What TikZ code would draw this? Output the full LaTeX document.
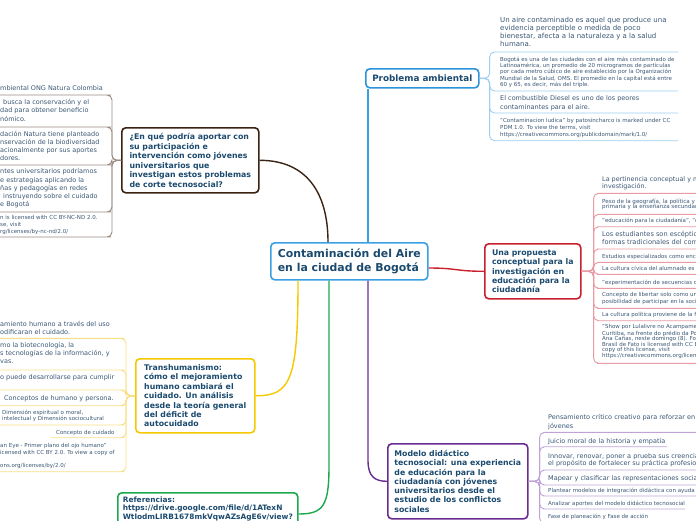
\documentclass[tikz,border=0pt]{standalone}
\usepackage{fontspec}
\setmainfont{DejaVu Sans}
\usetikzlibrary{calc}
\definecolor{ttl}{HTML}{1B4A6E}
\definecolor{lft}{HTML}{3A5774}
\definecolor{cblue}{HTML}{3AA0E4}
\definecolor{pblue}{HTML}{2C94DA}
\definecolor{lblue}{HTML}{9CCFF1}
\definecolor{brn}{HTML}{3B2314}
\definecolor{lbrn}{HTML}{9A8B82}
\definecolor{rd}{HTML}{C8202E}
\definecolor{lrd}{HTML}{E99AA2}
\definecolor{ylw}{HTML}{F5C800}
\definecolor{lylw}{HTML}{F8DF86}
\definecolor{prp}{HTML}{6B2C92}
\definecolor{lprp}{HTML}{BFA3D7}
\definecolor{grn}{HTML}{1CA94B}
\newcommand\fsz[2]{\fontsize{#1}{#2}\selectfont}
\newcommand\dep[1]{\rule[-#1pt]{0pt}{#1pt}}
\begin{document}
\begin{tikzpicture}[x=1pt,y=-1pt,
 box/.style={draw, rounded corners=4pt, line width=1.6pt, fill=white, text=ttl, align=left, anchor=north west, inner xsep=0pt, inner ysep=0pt},
 leaf/.style={align=left, anchor=south west, inner sep=0pt, text=lft},
 big/.style={font=\fsz{7}{8}},
 med/.style={font=\fsz{6.5}{8.2}},
 sml/.style={font=\fsz{5.5}{6.6}},
 main/.style={line width=1.4pt},
 twig/.style={line width=0.9pt, rounded corners=5pt},
]
\useasboundingbox (0,0) rectangle (696,520);

% ---- main nodes
\node[box, draw=cblue, minimum width=157pt, minimum height=37pt, font=\bfseries\fsz{10.9}{14}] (c) at (270,242) {Contaminación del Aire\\en la ciudad de Bogotá};
\node[box, draw=brn, minimum width=137pt, minimum height=65pt, font=\bfseries\fsz{7.8}{9.5}] (qa) at (121,127) {¿En qué podría aportar con\\su participación e\\intervención como jóvenes\\universitarios que\\investigan estos problemas\\de corte tecnosocial?};
\node[box, draw=pblue, minimum width=113pt, minimum height=19pt, font=\bfseries\fsz{8.8}{10}] (pa) at (365,68) {Problema ambiental};
\node[box, draw=rd, minimum width=96pt, minimum height=55pt, font=\bfseries\fsz{7.8}{9.4}] (rp) at (484,243) {Una propuesta\\conceptual para la\\investigación en\\educación para la\\ciudadanía};
\node[box, draw=ylw, minimum width=119pt, minimum height=74pt, font=\bfseries\fsz{7.8}{9.4}] (th) at (135,358) {Transhumanismo:\\cómo el mejoramiento\\humano cambiará el\\cuidado. Un análisis\\desde la teoría general\\del déficit de\\autocuidado};
\node[box, draw=prp, minimum width=140pt, minimum height=75pt, font=\bfseries\fsz{7.8}{9.3}] (md) at (387,443) {Modelo didáctico\\tecnosocial: una experiencia\\de educación para la\\ciudadanía con jóvenes\\universitarios desde el\\estudio de los conflictos\\sociales};
\node[box, draw=grn, minimum width=180pt, inner ysep=4pt, font=\bfseries\fsz{7.4}{8.4}] (rf) at (117,492) {Referencias:\\https://drive.google.com/file/d/1ATexN\\WtlodmLIRB1678mkVqwAZsAgE6v/view?\rule[-25pt]{0pt}{25pt}};

% ---- main connectors
\draw[main, brn] ($(c.north west)+(58,0)$) .. controls ($(c.north west)+(58,-48)$) and ($(qa.east)+(48,0)$) .. (qa.east);
\draw[main, cblue] ($(c.north west)+(98,0)$) -- ($(pa.south west)+(3,0)$);
\draw[main, rd] ($(c.north east)+(0,26)$) .. controls +(28,0) and +(-28,0) .. (rp.west);
\draw[main, ylw] ($(c.south west)+(28,0)$) .. controls ($(c.south west)+(28,100)$) and ($(th.east)+(35,0)$) .. (th.east);
\draw[main, grn] ($(c.south west)+(59,0)$) -- ($(c.south west)+(59,185)$) .. controls +(0,40) and +(25,0) .. ($(rf.north east)+(0,22)$);
\draw[main, prp] ($(c.south west)+(98,0)$) -- ($(c.south west)+(98,180)$) .. controls +(0,16) and +(-12,0) .. (md.west);

% ---- Problema ambiental leaves
\node[leaf, big] (p1) at (500,52) {Un aire contaminado es aquel que produce una\\evidencia perceptible o medida de poco\\bienestar, afecta a la naturaleza y a la salud\\humana.\dep{5.4}};
\node[leaf, font=\fsz{5.5}{6.4}] (p2) at (500,91) {Bogotá es una de las ciudades con el aire más contaminado de\\Latinoamérica, un promedio de 20 microgramos de partículas\\por cada metro cúbico de aire establecido por la Organización\\Mundial de la Salud, OMS. El promedio en la capital está entre\\60 y 65, es decir, más del triple.\dep{4.2}};
\node[leaf, font=\fsz{6.5}{9.6}] (p3) at (500,113) {El combustible Diesel es uno de los peores\\contaminantes para el aire.\dep{3}};
\node[leaf, font=\fsz{5.5}{6.7}] (p4) at (500,140.7) {"Contaminacion ludica" by patosincharco is marked under CC\\PDM 1.0. To view the terms, visit\\https://creativecommons.org/publicdomain/mark/1.0/\dep{4.2}};
\foreach \n in {p1,p2,p3,p4}
  \draw[twig, lblue] (pa.east) -- ++(10,0) |- (\n.south west) -- ++(178,0);

% ---- red leaves
\node[leaf, font=\fsz{6.4}{7.3}] (r1) at (602,193.3) {La pertinencia conceptual y m\\investigación.\dep{4.4}};
\node[leaf, font=\fsz{5.6}{5.6}] (r2) at (602,214.3) {Peso de la geografía, la política y\\primaria y la enseñanza secundari\dep{5.2}};
\node[leaf, sml] (r3) at (602,226.7) {"educación para la ciudadanía", "e\dep{4.2}};
\node[leaf, font=\fsz{6.6}{8}] (r4) at (602,249) {Los estudiantes son escéptico\\formas tradicionales del com\dep{4.8}};
\node[leaf, sml] (r5) at (602,262.3) {Estudios especializados como encu\dep{3.5}};
\node[leaf, sml] (r6) at (602,274.3) {La cultura cívica del alumnado es p\dep{3.5}};
\node[leaf, sml] (r7) at (602,288.3) {"experimentación de secuencias di\dep{3.8}};
\node[leaf, font=\fsz{5.5}{5.3}] (r8) at (602,308.3) {Concepto de libertar solo como un\\posibilidad de participar en la soci\dep{4.8}};
\node[leaf, sml] (r9) at (602,320.7) {La cultura política proviene de la f\dep{4.2}};
\node[leaf, font=\fsz{5.5}{5.5}] (r10) at (602,363.3) {"Show por Lulalivre no Acampame\\Curitiba, na frente do prédio da Po\\Ana Cañas, neste domingo (8). Fo\\Brasil de Fato is licensed with CC B\\copy of this license, visit\\https://creativecommons.org/licen\dep{5.8}};
\foreach \n in {r1,r2,r3,r4,r5,r6,r7,r8,r9,r10}
  \draw[twig, lrd] (rp.east) -- ++(12,0) |- (\n.south west) -- ++(120,0);

% ---- purple leaves
\node[leaf, font=\fsz{6.5}{8.4}] (u1) at (548,432.3) {Pensamiento crítico creativo para reforzar en\\jóvenes\dep{3.8}};
\node[leaf, med] (u2) at (548,446.7) {Juicio moral de la historia y empatía\dep{2.6}};
\node[leaf, font=\fsz{6.5}{7.6}] (u3) at (548,470) {Innovar, renovar, poner a prueba sus creencia\\el propósito de fortalecer su práctica profesio\dep{3.9}};
\node[leaf, med] (u4) at (548,485) {Mapear y clasificar las representaciones socia\dep{4.2}};
\node[leaf, sml] (u5) at (548,496) {Plantear modelos de integración didáctica con ayuda\dep{3.8}};
\node[leaf, sml] (u6) at (548,509) {Analizar aportes del modelo didáctico tecnosocial\dep{3.2}};
\node[leaf, sml] (u7) at (548,523) {Fase de planeación y Fase de acción\dep{4}};
\foreach \n/\l in {u1/172,u2/119,u3/172,u4/172,u5/172,u6/137,u7/172}
  \draw[twig, lprp] (md.east) -- ++(11,0) |- (\n.south west) -- ++(\l,0);

% ---- brown leaves
\node[leaf, med] (b1) at (0,95) {mbiental ONG Natura Colombia\dep{4.2}};
\node[leaf, med] (b2) at (0,127) {\hspace*{3pt}busca la conservación y el\\dad para obtener beneficio\\nómico.\dep{5.7}};
\node[leaf, med] (b3) at (0,165) {dación Natura tiene planteado\\nservación de la biodiversidad\\acionalmente por sus aportes\\dores.\dep{4.2}};
\node[leaf, med] (b4) at (0,212) {ntes universitarios podríamos\\e estrategias aplicando la\\ñas y pedagogías en redes\\\hspace*{3pt}instruyendo sobre el cuidado\\e Bogotá\dep{5.2}};
\node[leaf, font=\fsz{5.5}{7}] (b5) at (0,237) {n is licensed with CC BY-NC-ND 2.0.\\se, visit\\rg/licenses/by-nc-nd/2.0/\dep{3.5}};
\foreach \n in {b1,b2,b3,b4,b5}
  \draw[twig, lbrn] (qa.west) -- ++(-9,0) |- ($(\n.south west)+(106,0)$) -- (\n.south west) -- ++(-5,0);

% ---- yellow leaves
\node[leaf, font=\fsz{6.5}{7.7}] (y1) at (0,338.3) {amiento humano a través del uso\\odificaran el cuidado.\dep{3.8}};
\node[leaf, med] (y2) at (0,370) {mo la biotecnología, la\\s tecnologías de la información, y\\vas.\dep{5.9}};
\node[leaf, med] (y3) at (0,390) {o puede desarrollarse para cumplir\dep{10.5}};
\node[leaf, med] (y4) at (4,405.7) {Conceptos de humano y persona.\dep{4.6}};
\node[leaf, sml] (y5) at (2,425) {Dimensión espiritual o moral,\\intelectual y Dimensión sociocultural\dep{4.2}};
\node[leaf, sml] (y6) at (56,437.7) {Concepto de cuidado\dep{3.5}};
\node[leaf, sml] (y7) at (0,471.7) {an Eye - Primer plano del ojo humano"\\icensed with CC BY 2.0. To view a copy of\\~\\ons.org/licenses/by/2.0/\dep{4.2}};
\foreach \n/\l in {y1/119,y2/119,y3/119,y4/115,y5/117,y7/119}
  \draw[twig, lylw] (th.west) -- ++(-9,0) |- ($(\n.south west)+(\l,0)$) -- (\n.south west) -- ++(-5,0);
\draw[twig, lylw] (th.west) -- ++(-9,0) |- ($(y6.south west)+(63,0)$) -- (y6.south west) -- ++(-3,0);
\end{tikzpicture}
\end{document}
